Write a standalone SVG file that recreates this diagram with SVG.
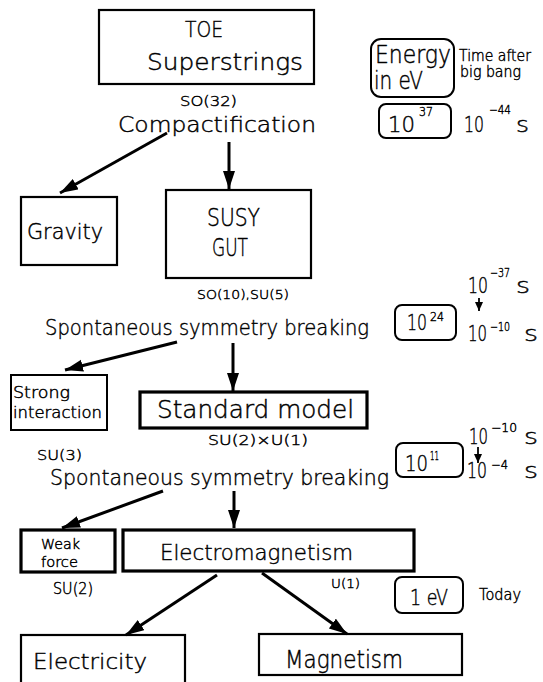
<svg xmlns="http://www.w3.org/2000/svg" width="543" height="682" viewBox="0 0 543 682">
<style>
text{font-family:"DejaVu Sans","Liberation Sans",sans-serif;font-weight:200;fill:#000;stroke:#000;stroke-width:0.45;}
.b{fill:none;stroke:#000;stroke-width:2.2;}
.bt{fill:none;stroke:#000;stroke-width:3.2;}
.r{fill:none;stroke:#000;stroke-width:2;}
.a{stroke:#000;stroke-width:3;fill:none;}
.as{stroke:#000;stroke-width:1.8;fill:none;}
.n{font-size:22px;}
.sup{font-size:12px;}
</style>
<defs>
<marker id="ah" markerUnits="userSpaceOnUse" markerWidth="20" markerHeight="14" refX="18" refY="6" orient="auto">
<path d="M0,0 L18,6 L0,12 Z" fill="#000"/>
</marker>
<marker id="ahs" markerUnits="userSpaceOnUse" markerWidth="10" markerHeight="8" refX="9" refY="4" orient="auto">
<path d="M0,0 L9,4 L0,8 Z" fill="#000"/>
</marker>
</defs>

<g id="connectors">
<line class="a" x1="167" y1="133" x2="60" y2="193" marker-end="url(#ah)"/>
<line class="a" x1="229" y1="142" x2="229" y2="189" marker-end="url(#ah)"/>
<line class="a" x1="177" y1="342" x2="65" y2="370" marker-end="url(#ah)"/>
<line class="a" x1="233" y1="343" x2="233" y2="391" marker-end="url(#ah)"/>
<line class="a" x1="163" y1="491" x2="62" y2="528" marker-end="url(#ah)"/>
<line class="a" x1="234" y1="491" x2="234" y2="528" marker-end="url(#ah)"/>
<line class="a" x1="217" y1="575" x2="126" y2="635" marker-end="url(#ah)"/>
<line class="a" x1="262" y1="573" x2="347" y2="634" marker-end="url(#ah)"/>
<line class="as" x1="479" y1="298" x2="479" y2="311" marker-end="url(#ahs)"/>
<line class="as" x1="478" y1="447" x2="478" y2="463" marker-end="url(#ahs)"/>
</g>

<g id="toe">
<rect class="b" x="99" y="10" width="215" height="74"/>
<text x="185" y="37" font-size="22" textLength="38" lengthAdjust="spacingAndGlyphs">TOE</text>
<text x="147" y="70" font-size="23.5" textLength="156" lengthAdjust="spacingAndGlyphs">Superstrings</text>
</g>

<g id="compactification">
<text x="180" y="106" font-size="13.5" textLength="57" lengthAdjust="spacingAndGlyphs">SO(32)</text>
<text x="118" y="132" font-size="21" textLength="198" lengthAdjust="spacingAndGlyphs">Compactification</text>
</g>

<g id="gravity">
<rect class="b" x="21" y="197" width="96" height="68"/>
<text x="27" y="239" font-size="21" textLength="76" lengthAdjust="spacingAndGlyphs">Gravity</text>
</g>

<g id="susy">
<rect class="b" x="166" y="190" width="145" height="88"/>
<text x="207" y="226" font-size="25" textLength="53" lengthAdjust="spacingAndGlyphs">SUSY</text>
<text x="212" y="256" font-size="25" textLength="36" lengthAdjust="spacingAndGlyphs">GUT</text>
<text x="197" y="299" font-size="13" textLength="92" lengthAdjust="spacingAndGlyphs">SO(10),SU(5)</text>
</g>

<g id="ssb1">
<text x="45" y="335" font-size="22" textLength="324" lengthAdjust="spacingAndGlyphs">Spontaneous symmetry breaking</text>
</g>

<g id="strong">
<rect class="r" x="11" y="375" width="96" height="55"/>
<text x="13" y="398" font-size="15" textLength="57" lengthAdjust="spacingAndGlyphs">Strong</text>
<text x="13" y="418" font-size="15" textLength="89" lengthAdjust="spacingAndGlyphs">interaction</text>
<text x="37" y="460" font-size="14" textLength="45" lengthAdjust="spacingAndGlyphs">SU(3)</text>
</g>

<g id="standard">
<rect class="bt" x="140" y="392" width="227" height="36"/>
<text x="157" y="418" font-size="24" textLength="197" lengthAdjust="spacingAndGlyphs">Standard model</text>
<text x="208" y="445" font-size="14" textLength="100" lengthAdjust="spacingAndGlyphs">SU(2)×U(1)</text>
</g>

<g id="ssb2">
<text x="50" y="485" font-size="22" textLength="339" lengthAdjust="spacingAndGlyphs">Spontaneous symmetry breaking</text>
</g>

<g id="weak">
<rect class="bt" x="21" y="530" width="94" height="42"/>
<text x="41" y="549" font-size="14" textLength="39" lengthAdjust="spacingAndGlyphs">Weak</text>
<text x="41" y="567" font-size="14" textLength="37" lengthAdjust="spacingAndGlyphs">force</text>
<text x="53" y="594" font-size="15" textLength="40" lengthAdjust="spacingAndGlyphs">SU(2)</text>
</g>

<g id="em">
<rect class="bt" x="123" y="530" width="291" height="41"/>
<text x="160" y="560" font-size="22" textLength="193" lengthAdjust="spacingAndGlyphs">Electromagnetism</text>
<text x="331" y="588" font-size="13" textLength="29" lengthAdjust="spacingAndGlyphs">U(1)</text>
</g>

<g id="electricity">
<rect class="b" x="21" y="635" width="164" height="52"/>
<text x="33" y="669" font-size="22" textLength="114" lengthAdjust="spacingAndGlyphs">Electricity</text>
</g>

<g id="magnetism">
<rect class="b" x="259" y="634" width="203" height="41"/>
<text x="285" y="668" font-size="24" textLength="118" lengthAdjust="spacingAndGlyphs">Magnetism</text>
</g>

<g id="legend">
<rect class="r" x="371" y="39" width="83" height="58" rx="10"/>
<text x="375" y="63" font-size="25" textLength="76" lengthAdjust="spacingAndGlyphs">Energy</text>
<text x="374" y="89" font-size="25" textLength="49" lengthAdjust="spacingAndGlyphs">in eV</text>
<text x="459" y="61" font-size="15" textLength="72" lengthAdjust="spacingAndGlyphs">Time after</text>
<text x="460" y="77" font-size="15" textLength="61" lengthAdjust="spacingAndGlyphs">big bang</text>
</g>

<g id="e37">
<rect class="r" x="379" y="104" width="72" height="34" rx="7"/>
<text class="n" x="388" y="132" textLength="27" lengthAdjust="spacingAndGlyphs">10</text>
<text class="sup" x="419" y="116" textLength="14" lengthAdjust="spacingAndGlyphs">37</text>
<text class="n" x="464" y="132" textLength="20" lengthAdjust="spacingAndGlyphs">10</text>
<text class="sup" x="489" y="114" textLength="22" lengthAdjust="spacingAndGlyphs">−44</text>
<text class="n" x="516" y="132" textLength="13" lengthAdjust="spacingAndGlyphs">s</text>
</g>

<g id="e24">
<text class="n" x="468" y="293" textLength="20" lengthAdjust="spacingAndGlyphs">10</text>
<text class="sup" x="490" y="277" textLength="20" lengthAdjust="spacingAndGlyphs">−37</text>
<text class="n" x="516" y="293" textLength="14" lengthAdjust="spacingAndGlyphs">s</text>
<rect class="r" x="395" y="305" width="61" height="35" rx="7"/>
<text class="n" x="407" y="330" textLength="20" lengthAdjust="spacingAndGlyphs">10</text>
<text class="sup" x="430" y="321" textLength="14" lengthAdjust="spacingAndGlyphs">24</text>
<text class="n" x="468" y="341" textLength="19" lengthAdjust="spacingAndGlyphs">10</text>
<text class="sup" x="490" y="331" textLength="20" lengthAdjust="spacingAndGlyphs">−10</text>
<text class="n" x="524" y="341" textLength="14" lengthAdjust="spacingAndGlyphs">s</text>
</g>

<g id="e11">
<text class="n" x="469" y="444" textLength="19" lengthAdjust="spacingAndGlyphs">10</text>
<text class="sup" x="491" y="432" textLength="26" lengthAdjust="spacingAndGlyphs">−10</text>
<text class="n" x="524" y="444" textLength="14" lengthAdjust="spacingAndGlyphs">s</text>
<rect class="r" x="396" y="443" width="67" height="34" rx="7"/>
<text class="n" x="405" y="471" textLength="23" lengthAdjust="spacingAndGlyphs">10</text>
<text class="sup" x="430" y="460" textLength="9" lengthAdjust="spacingAndGlyphs">11</text>
<text class="n" x="467" y="478" textLength="20" lengthAdjust="spacingAndGlyphs">10</text>
<text class="sup" x="491" y="469" textLength="17" lengthAdjust="spacingAndGlyphs">−4</text>
<text class="n" x="524" y="478" textLength="14" lengthAdjust="spacingAndGlyphs">s</text>
</g>

<g id="e1">
<rect class="r" x="395" y="577" width="68" height="36" rx="7"/>
<text x="410" y="605" font-size="22" textLength="38" lengthAdjust="spacingAndGlyphs">1 eV</text>
<text x="479" y="600" font-size="15" textLength="42" lengthAdjust="spacingAndGlyphs">Today</text>
</g>
</svg>
